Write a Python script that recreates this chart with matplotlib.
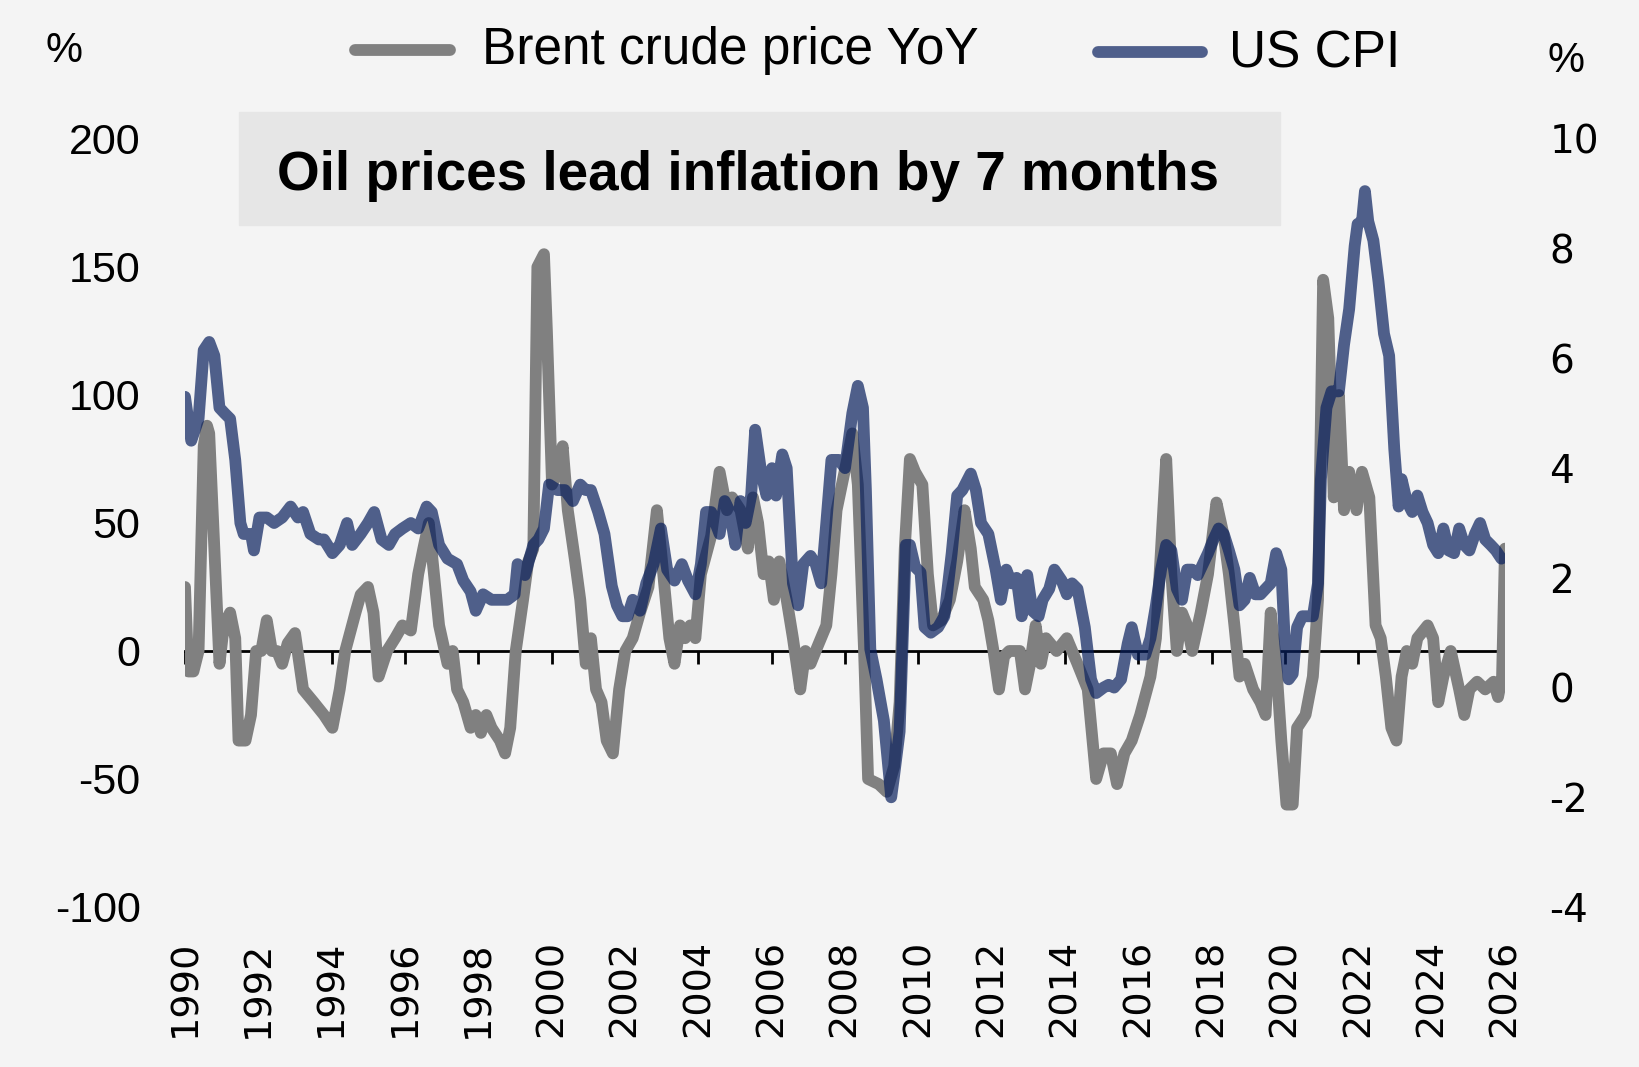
import numpy as np
import matplotlib
matplotlib.use('Agg')
import matplotlib.pyplot as plt
from matplotlib.lines import Line2D
from matplotlib.patches import Rectangle
from matplotlib.transforms import blended_transform_factory

plt.rcParams['font.family'] = ['Liberation Sans', 'DejaVu Sans']
plt.rcParams['axes.unicode_minus'] = False

# Brent crude price YoY (%), left axis
brent_t = [1990.00, 1990.09, 1990.23, 1990.37, 1990.51, 1990.60, 1990.66, 1990.80, 1990.94, 1991.06,
           1991.23, 1991.37, 1991.46, 1991.65, 1991.80, 1991.94, 1992.08, 1992.23, 1992.37, 1992.51,
           1992.65, 1992.80, 1993.00, 1993.22, 1993.51, 1993.79, 1994.02, 1994.22, 1994.37, 1994.65,
           1994.79, 1994.99, 1995.14, 1995.28, 1995.51, 1995.73, 1995.93, 1996.16, 1996.36, 1996.50,
           1996.65, 1996.79, 1996.93, 1997.16, 1997.30, 1997.42, 1997.59, 1997.79, 1997.93, 1998.07,
           1998.22, 1998.36, 1998.59, 1998.73, 1998.87, 1999.02, 1999.22, 1999.36, 1999.50, 1999.61,
           1999.79, 1999.87, 2000.01, 2000.16, 2000.30, 2000.44, 2000.64, 2000.78, 2000.93, 2001.07,
           2001.21, 2001.36, 2001.50, 2001.67, 2001.84, 2002.01, 2002.21, 2002.41, 2002.64, 2002.87,
           2003.01, 2003.21, 2003.35, 2003.50, 2003.64, 2003.78, 2003.92, 2004.07, 2004.35, 2004.58,
           2004.78, 2004.92, 2005.15, 2005.35, 2005.49, 2005.63, 2005.78, 2005.92, 2006.06, 2006.21,
           2006.41, 2006.58, 2006.78, 2006.92, 2007.06, 2007.20, 2007.49, 2007.63, 2007.77, 2008.06,
           2008.20, 2008.35, 2008.52, 2008.63, 2008.92, 2009.14, 2009.34, 2009.49, 2009.63, 2009.77,
           2009.91, 2010.11, 2010.26, 2010.40, 2010.63, 2010.86, 2011.06, 2011.26, 2011.43, 2011.54,
           2011.77, 2011.91, 2012.05, 2012.20, 2012.34, 2012.48, 2012.77, 2012.91, 2013.05, 2013.20,
           2013.34, 2013.48, 2013.77, 2014.05, 2014.34, 2014.62, 2014.85, 2015.05, 2015.25, 2015.42,
           2015.62, 2015.82, 2016.05, 2016.33, 2016.48, 2016.62, 2016.76, 2016.90, 2017.05, 2017.19,
           2017.33, 2017.47, 2017.70, 2017.90, 2018.13, 2018.33, 2018.47, 2018.62, 2018.76, 2018.90,
           2019.13, 2019.33, 2019.47, 2019.61, 2019.76, 2019.90, 2020.04, 2020.21, 2020.33, 2020.56,
           2020.76, 2020.90, 2021.04, 2021.18, 2021.33, 2021.47, 2021.61, 2021.75, 2021.95, 2022.10,
           2022.30, 2022.47, 2022.61, 2022.75, 2022.90, 2023.04, 2023.18, 2023.32, 2023.47, 2023.61,
           2023.89, 2024.04, 2024.18, 2024.32, 2024.52, 2024.75, 2024.89, 2025.03, 2025.24, 2025.46,
           2025.69, 2025.81, 2025.92, 2026.00]
brent_v = [25, -8, -8, 0, 80, 88, 85, 40, -5, 10,
           15, 5, -35, -35, -25, 0, 0, 12, 0, 0,
           -5, 3, 7, -15, -20, -25, -30, -15, 0, 15,
           22, 25, 15, -10, 0, 5, 10, 8, 30, 40,
           50, 30, 10, -5, 0, -15, -20, -30, -25, -32,
           -25, -30, -35, -40, -30, 0, 20, 35, 40, 150,
           155, 125, 65, 70, 80, 55, 35, 20, -5, 5,
           -15, -20, -35, -40, -15, 0, 5, 15, 25, 55,
           35, 5, -5, 10, 5, 10, 5, 30, 45, 70,
           55, 60, 55, 40, 60, 50, 30, 35, 20, 35,
           20, 5, -15, 0, -5, 0, 10, 30, 55, 75,
           85, 65, 0, -50, -52, -55, -45, -20, 40, 75,
           70, 65, 30, 10, 12, 20, 35, 55, 40, 25,
           20, 12, 0, -15, -2, 0, 0, -15, -5, 10,
           -5, 5, 0, 5, -5, -15, -50, -40, -40, -52,
           -40, -35, -25, -10, 5, 40, 75, 30, 0, 15,
           10, 0, 15, 30, 58, 45, 30, 10, -10, -5,
           -15, -20, -25, 15, -5, -35, -60, -60, -30, -25,
           -10, 20, 145, 130, 60, 100, 55, 70, 55, 70,
           60, 10, 5, -10, -30, -35, -10, 0, -5, 5,
           10, 5, -20, -10, 0, -15, -25, -15, -12, -15,
           -12, -18, -10, 40]

# US CPI (%), right axis
cpi_t = [1990.00, 1990.17, 1990.37, 1990.51, 1990.66, 1990.80, 1990.94, 1991.08, 1991.23, 1991.37,
         1991.51, 1991.60, 1991.80, 1991.88, 1992.03, 1992.23, 1992.43, 1992.65, 1992.88, 1993.08,
         1993.22, 1993.42, 1993.65, 1993.79, 1994.02, 1994.22, 1994.42, 1994.56, 1994.79, 1994.99,
         1995.16, 1995.36, 1995.56, 1995.73, 1995.93, 1996.16, 1996.36, 1996.59, 1996.73, 1996.93,
         1997.16, 1997.42, 1997.59, 1997.79, 1997.93, 1998.13, 1998.36, 1998.59, 1998.79, 1998.99,
         1999.07, 1999.27, 1999.50, 1999.64, 1999.79, 1999.93, 2000.16, 2000.36, 2000.58, 2000.78,
         2000.93, 2001.07, 2001.27, 2001.44, 2001.64, 2001.78, 2001.93, 2002.07, 2002.21, 2002.41,
         2002.58, 2002.78, 2002.98, 2003.15, 2003.35, 2003.55, 2003.72, 2003.92, 2004.07, 2004.21,
         2004.35, 2004.58, 2004.72, 2004.86, 2005.01, 2005.15, 2005.29, 2005.44, 2005.55, 2005.72,
         2005.86, 2006.01, 2006.12, 2006.29, 2006.41, 2006.58, 2006.72, 2006.86, 2007.06, 2007.20,
         2007.35, 2007.49, 2007.63, 2007.83, 2008.00, 2008.20, 2008.35, 2008.49, 2008.57, 2008.69,
         2008.86, 2009.06, 2009.26, 2009.34, 2009.49, 2009.66, 2009.77, 2009.91, 2010.06, 2010.17,
         2010.34, 2010.54, 2010.71, 2010.91, 2011.06, 2011.20, 2011.43, 2011.57, 2011.71, 2011.91,
         2012.11, 2012.25, 2012.40, 2012.54, 2012.68, 2012.82, 2012.97, 2013.11, 2013.28, 2013.39,
         2013.57, 2013.71, 2013.91, 2014.05, 2014.19, 2014.34, 2014.54, 2014.71, 2014.85, 2015.05,
         2015.19, 2015.34, 2015.53, 2015.71, 2015.82, 2015.99, 2016.19, 2016.33, 2016.48, 2016.62,
         2016.76, 2016.90, 2017.05, 2017.19, 2017.33, 2017.47, 2017.62, 2017.76, 2017.90, 2018.05,
         2018.19, 2018.33, 2018.47, 2018.62, 2018.76, 2018.90, 2019.04, 2019.19, 2019.33, 2019.47,
         2019.61, 2019.76, 2019.90, 2019.99, 2020.10, 2020.21, 2020.33, 2020.47, 2020.61, 2020.76,
         2020.90, 2020.98, 2021.13, 2021.27, 2021.47, 2021.61, 2021.75, 2021.90, 2021.98, 2022.10,
         2022.18, 2022.27, 2022.41, 2022.55, 2022.70, 2022.84, 2022.98, 2023.10, 2023.18, 2023.32,
         2023.47, 2023.61, 2023.75, 2023.89, 2024.04, 2024.18, 2024.32, 2024.46, 2024.61, 2024.75,
         2024.89, 2025.03, 2025.18, 2025.32, 2025.46, 2025.61, 2025.75, 2025.90]
cpi_v = [5.3, 4.5, 4.9, 6.15, 6.3, 6.05, 5.1, 5.0, 4.9, 4.15,
         3.0, 2.8, 2.8, 2.5, 3.1, 3.1, 3.0, 3.1, 3.3, 3.1,
         3.2, 2.8, 2.7, 2.7, 2.45, 2.6, 3.0, 2.6, 2.8, 3.0,
         3.2, 2.7, 2.6, 2.8, 2.9, 3.0, 2.9, 3.3, 3.2, 2.6,
         2.35, 2.25, 1.95, 1.75, 1.4, 1.7, 1.6, 1.6, 1.6, 1.7,
         2.25, 2.05, 2.6, 2.7, 2.9, 3.7, 3.6, 3.6, 3.4, 3.7,
         3.6, 3.6, 3.2, 2.8, 1.85, 1.5, 1.3, 1.3, 1.6, 1.4,
         1.9, 2.25, 2.9, 2.15, 1.95, 2.25, 1.95, 1.7, 2.25, 3.2,
         3.2, 2.8, 3.4, 3.2, 2.6, 3.4, 3.0, 3.5, 4.7, 3.9,
         3.5, 4.0, 3.5, 4.25, 4.0, 1.9, 1.5, 2.25, 2.4, 2.25,
         1.9, 3.0, 4.15, 4.15, 4.0, 5.0, 5.5, 5.1, 3.6, 0.7,
         0.15, -0.6, -2.0, -1.6, -0.8, 2.6, 2.6, 2.2, 2.1, 1.1,
         1.0, 1.1, 1.3, 2.45, 3.5, 3.6, 3.9, 3.6, 3.0, 2.8,
         2.15, 1.6, 2.15, 1.9, 2.0, 1.3, 2.05, 1.4, 1.3, 1.6,
         1.8, 2.15, 1.95, 1.7, 1.9, 1.8, 1.1, 0.15, -0.1, 0.0,
         0.05, 0.0, 0.15, 0.8, 1.1, 0.6, 0.6, 0.9, 1.5, 2.15,
         2.6, 2.5, 1.8, 1.6, 2.15, 2.15, 2.05, 2.25, 2.45, 2.7,
         2.9, 2.8, 2.5, 2.15, 1.5, 1.6, 2.0, 1.7, 1.7, 1.8,
         1.9, 2.45, 2.15, 0.9, 0.15, 0.25, 1.1, 1.3, 1.3, 1.3,
         1.9, 3.8, 5.1, 5.4, 5.4, 6.25, 6.9, 8.05, 8.45, 8.5,
         9.05, 8.5, 8.15, 7.4, 6.45, 6.05, 4.35, 3.3, 3.8, 3.4,
         3.2, 3.5, 3.2, 3.0, 2.6, 2.45, 2.9, 2.5, 2.45, 2.9,
         2.6, 2.5, 2.8, 3.0, 2.7, 2.6, 2.5, 2.35]

left_ticks = [-100, -50, 0, 50, 100, 150, 200]
right_ticks = [-4, -2, 0, 2, 4, 6, 8, 10]
year_labels = list(range(1990, 2027, 2))

W, H = 1639, 1067
fig = plt.figure(figsize=(W / 100, H / 100), dpi=100, facecolor='#f4f4f4')

ax = fig.add_axes([185 / W, 1 - 907 / H, 1320 / W, 768 / H])
ax.patch.set_alpha(0)
ax.plot(brent_t, brent_v, color='#808080', lw=8.5, solid_joinstyle='round',
        solid_capstyle='round', zorder=3)
ax.set_xlim(1990, 2026)
ax.set_ylim(-100, 200)
ax.set_yticks(left_ticks)
ax.tick_params(axis='y', length=0, pad=32, labelsize=31)
for s in ['top', 'right', 'left']:
    ax.spines[s].set_visible(False)
ax.spines['bottom'].set_position(('data', 0))
ax.spines['bottom'].set_bounds(1990, 2025.75)
ax.spines['bottom'].set_linewidth(2)
ax.spines['bottom'].set_zorder(1)
ax.set_xticks(range(1990, 2025, 2))
ax.tick_params(axis='x', direction='out', length=9, width=2, labelbottom=False)
ax.set_axisbelow(True)

ax2 = ax.twinx()
ax2.plot(cpi_t, cpi_v, color='#09205e', alpha=0.7, lw=8.5, solid_joinstyle='round',
         solid_capstyle='round')
ax2.set_ylim(-4, 10)
ax2.set_yticks(right_ticks)
ax2.tick_params(axis='y', length=0, pad=32, labelsize=28)
for lbl in ax2.get_yticklabels():
    lbl.set_fontfamily('DejaVu Sans')
for s in ax2.spines.values():
    s.set_visible(False)

trans = blended_transform_factory(ax.transData, fig.transFigure)
for yr in year_labels:
    ax.text(yr, 1 - 940 / H, str(yr), transform=trans, rotation=90, ha='center',
            va='top', fontsize=27.5, family='DejaVu Sans')

# unit labels
fig.text(64 / W, 1 - 51 / H, '%', ha='center', va='center', fontsize=30)
fig.text(1566 / W, 1 - 61 / H, '%', ha='center', va='center', fontsize=30)

# title box
fig.add_artist(Rectangle((239 / W, 1 - 225 / H), 1041 / W, 113 / H,
                         transform=fig.transFigure, color='#e6e6e6', zorder=0))
fig.text(277 / W, 1 - 190 / H, 'Oil prices lead inflation by 7 months',
         fontsize=39.5, weight='bold', va='baseline')

# legend
fig.add_artist(Line2D([355 / W, 450 / W], [1 - 50 / H, 1 - 50 / H], transform=fig.transFigure,
                      color='#808080', lw=8.5, solid_capstyle='round'))
fig.text(482 / W, 1 - 64 / H, 'Brent crude price YoY', fontsize=37, va='baseline')
fig.add_artist(Line2D([1098 / W, 1202 / W], [1 - 52 / H, 1 - 52 / H], transform=fig.transFigure,
                      color='#4f5f8b', lw=8.5, solid_capstyle='round'))
fig.text(1229 / W, 1 - 68 / H, 'US CPI', fontsize=37, va='baseline')

fig.savefig('out.png', dpi=100, facecolor=fig.get_facecolor())
